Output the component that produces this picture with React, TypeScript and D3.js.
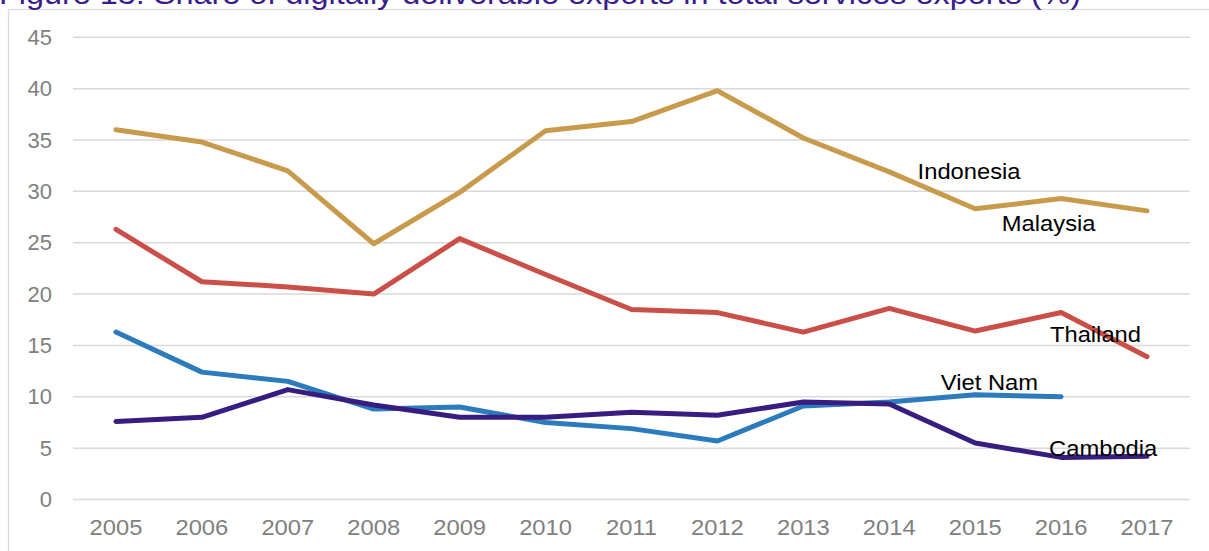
import React from "react";
import * as d3 from "d3";

const years = [2005, 2006, 2007, 2008, 2009, 2010, 2011, 2012, 2013, 2014, 2015, 2016, 2017];
const indonesia = [36.0, 34.8, 32.0, 24.9, 29.9, 35.9, 36.8, 39.8, 35.2, 31.9, 28.3, 29.3, 28.1];
const thailand = [26.3, 21.2, 20.7, 20.0, 25.4, 21.9, 18.5, 18.2, 16.3, 18.6, 16.4, 18.2, 13.9];
const vietNam: (number | null)[] = [16.3, 12.4, 11.5, 8.8, 9.0, 7.5, 6.9, 5.7, 9.1, 9.5, 10.2, 10.0, null];
const cambodia = [7.6, 8.0, 10.7, 9.2, 8.0, 8.0, 8.5, 8.2, 9.5, 9.3, 5.5, 4.1, 4.2];
const yTicks = [0, 5, 10, 15, 20, 25, 30, 35, 40, 45];

const seriesList = [
  { name: "Indonesia", values: indonesia, color: "#c89b4c" },
  { name: "Thailand", values: thailand, color: "#c94f48" },
  { name: "Viet Nam", values: vietNam, color: "#2b7bbd" },
  { name: "Cambodia", values: cambodia, color: "#371d80" },
];

// label anchors in data space (fractional year, value)
const labels = [
  { text: "Indonesia", year: 2014.33, value: 31.2 },
  { text: "Malaysia", year: 2015.31, value: 26.1 },
  { text: "Thailand", year: 2015.87, value: 15.3 },
  { text: "Viet Nam", year: 2014.6, value: 10.65 },
  { text: "Cambodia", year: 2015.86, value: 4.25 },
];

const title = "Figure 13: Share of digitally deliverable exports in total services exports (%)";

export default function App() {
  const W = 1209;
  const H = 551;
  const left = 73;
  const right = 1190;
  const x = d3.scaleBand<number>().domain(years).range([left, right]);
  const cx = (yr: number) => (x(yr) as number) + x.bandwidth() / 2;
  const xLin = d3
    .scaleLinear()
    .domain([years[0], years[years.length - 1]])
    .range([cx(years[0]), cx(years[years.length - 1])]);
  const y = d3.scaleLinear().domain([0, 45]).range([499.5, 37.3]);

  const line = d3
    .line<number | null>()
    .defined((d) => d !== null)
    .x((_, i) => cx(years[i]))
    .y((d) => y(d as number));

  const font = "'Liberation Sans', Arial, Helvetica, sans-serif";

  return (
    <svg
      width={W}
      height={H}
      style={{ position: "absolute", left: 0, top: 0, background: "#fff" }}
      fontFamily={font}
    >
      <rect x={8.5} y={9.5} width={1300} height={700} fill="#fff" stroke="#d9d9d9" strokeWidth={1.2} />
      <text x={-1} y={4} fontSize={30} fill="#3a1d8c" transform="scale(1.08,1)">
        {title}
      </text>
      {yTicks.map((t) => (
        <g key={t}>
          <line x1={left} x2={right} y1={y(t)} y2={y(t)} stroke="#d9d9d9" strokeWidth={1.5} />
          <text x={52} y={y(t)} dy="0.35em" textAnchor="end" fontSize={22} fill="#808080">
            {t}
          </text>
        </g>
      ))}
      {years.map((yr) => (
        <text key={yr} x={cx(yr)} y={535} textAnchor="middle" fontSize={22} fill="#808080"
          transform={`translate(${cx(yr)},0) scale(1.08,1) translate(${-cx(yr)},0)`}>
          {yr}
        </text>
      ))}
      {seriesList.map((s) => (
        <path
          key={s.name}
          d={line(s.values as (number | null)[]) || ""}
          fill="none"
          stroke={s.color}
          strokeWidth={5}
          strokeLinecap="round"
          strokeLinejoin="round"
        />
      ))}
      {labels.map((l) => {
        const lx = xLin(l.year);
        return (
          <text key={l.text} x={lx} y={y(l.value)} fontSize={22} fill="#000"
            transform={`translate(${lx},0) scale(1.08,1) translate(${-lx},0)`}>
            {l.text}
          </text>
        );
      })}
    </svg>
  );
}
